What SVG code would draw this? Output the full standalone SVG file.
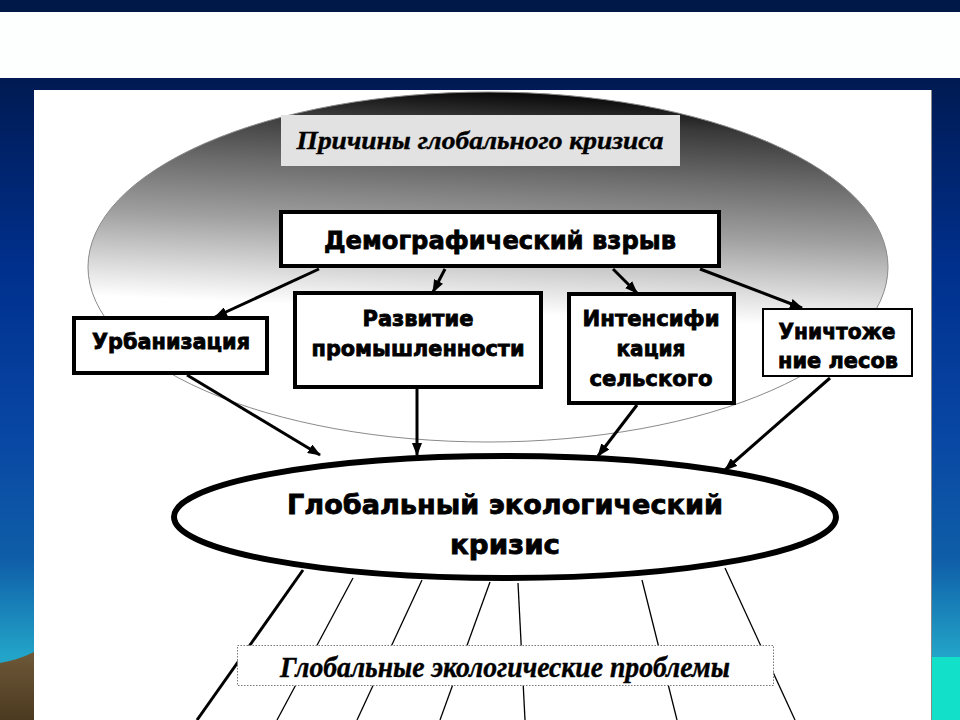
<svg xmlns="http://www.w3.org/2000/svg" width="960" height="720" viewBox="0 0 960 720">
<defs>
<linearGradient id="bg" x1="0" y1="78" x2="0" y2="720" gradientUnits="userSpaceOnUse">
<stop offset="0" stop-color="#001a52"/>
<stop offset="0.3" stop-color="#00308e"/>
<stop offset="0.55" stop-color="#0846a4"/>
<stop offset="0.75" stop-color="#0f5ea8"/>
<stop offset="0.9" stop-color="#22a4c8"/>
<stop offset="1" stop-color="#28b0cc"/>
</linearGradient>
<linearGradient id="brown" x1="0" y1="0" x2="0" y2="1">
<stop offset="0" stop-color="#6e5838"/>
<stop offset="1" stop-color="#4c3a20"/>
</linearGradient>
<linearGradient id="shade" x1="0.45" y1="0" x2="0.35" y2="1">
<stop offset="0" stop-color="#0c0c0c"/>
<stop offset="0.08" stop-color="#3a3a3a"/>
<stop offset="0.22" stop-color="#6c6c6c"/>
<stop offset="0.38" stop-color="#a0a0a0"/>
<stop offset="0.52" stop-color="#d8d8d8"/>
<stop offset="0.62" stop-color="#ffffff"/>
<stop offset="1" stop-color="#ffffff"/>
</linearGradient>
<marker id="ah" markerUnits="userSpaceOnUse" markerWidth="13" markerHeight="10" refX="12" refY="5" orient="auto">
<path d="M0,0 L13,5 L0,10 z" fill="#000"/>
</marker>
<style>
.box{fill:#fff;stroke:#000;stroke-width:4}
.thin{fill:#fff;stroke:#000;stroke-width:2}
.lbl{font-family:"DejaVu Sans","Liberation Sans",sans-serif;font-weight:bold;fill:#000;stroke:#000;stroke-width:0.8;text-anchor:middle}
.ital{font-family:"Liberation Serif","DejaVu Serif",serif;font-weight:bold;font-style:italic;fill:#000;stroke:#000;stroke-width:0.4;text-anchor:middle}
.arr{stroke:#000;stroke-width:3;fill:none;marker-end:url(#ah)}
.fan{stroke:#000;stroke-width:1.3;fill:none}
</style>
</defs>
<g id="background">
<rect x="0" y="0" width="960" height="720" fill="url(#bg)"/>
<rect x="0" y="0" width="960" height="12" fill="#001848"/>
<rect x="0" y="12" width="960" height="66" fill="#fdfefe"/>
<path d="M0,663 Q18,660 34,652 L34,720 L0,720 z" fill="url(#brown)"/>
<rect x="932" y="657" width="28" height="63" fill="#12e0c8"/>
<rect x="34" y="90" width="898" height="630" fill="#ffffff"/>
<line x1="931.5" y1="90" x2="931.5" y2="720" stroke="#8a8a8a" stroke-width="1"/>
</g>
<g id="causes-area">
<ellipse cx="488" cy="267" rx="400" ry="175" fill="url(#shade)" stroke="#8a8a8a" stroke-width="1"/>
</g>
<g id="title">
<rect x="281" y="115" width="399" height="51" fill="#e2e2e2"/>
<text class="ital" x="480" y="149" font-size="26" textLength="367" lengthAdjust="spacingAndGlyphs">Причины глобального кризиса</text>
</g>
<g id="connectors">
<line class="arr" x1="319" y1="269" x2="215" y2="317"/>
<line class="arr" x1="445" y1="269" x2="433" y2="292"/>
<line class="arr" x1="613" y1="269" x2="637" y2="293"/>
<line class="arr" x1="700" y1="269" x2="802" y2="308"/>
<line class="arr" x1="187" y1="375" x2="320" y2="455"/>
<line class="arr" x1="417" y1="388" x2="417" y2="455"/>
<line class="arr" x1="637" y1="405" x2="598" y2="456"/>
<line class="arr" x1="830" y1="378" x2="725" y2="470"/>
<line x1="303" y1="570" x2="197" y2="720" stroke="#000" stroke-width="3"/>
<line class="fan" x1="353" y1="578" x2="277" y2="720"/>
<line class="fan" x1="422" y1="580" x2="357" y2="720"/>
<line class="fan" x1="490" y1="582" x2="440" y2="720"/>
<line class="fan" x1="518" y1="583" x2="525" y2="720"/>
<line class="fan" x1="642" y1="580" x2="677" y2="720"/>
<line class="fan" x1="725" y1="568" x2="795" y2="720"/>
</g>
<g id="demographic">
<rect class="box" x="281" y="212" width="438" height="54"/>
<text class="lbl" x="500" y="249" font-size="25" textLength="352" lengthAdjust="spacingAndGlyphs">Демографический взрыв</text>
</g>
<g id="urbanization">
<rect class="box" x="74" y="318" width="193" height="55"/>
<text class="lbl" x="171" y="349" font-size="21" textLength="158" lengthAdjust="spacingAndGlyphs">Урбанизация</text>
</g>
<g id="industry">
<rect class="box" x="295" y="293" width="246" height="94"/>
<text class="lbl" x="418" y="326" font-size="21" textLength="111" lengthAdjust="spacingAndGlyphs">Развитие</text>
<text class="lbl" x="418" y="356" font-size="21" textLength="213" lengthAdjust="spacingAndGlyphs">промышленности</text>
</g>
<g id="agriculture">
<rect class="box" x="569" y="294" width="165" height="109"/>
<text class="lbl" x="651" y="326" font-size="21" textLength="137" lengthAdjust="spacingAndGlyphs">Интенсифи</text>
<text class="lbl" x="651" y="356" font-size="21" textLength="69" lengthAdjust="spacingAndGlyphs">кация</text>
<text class="lbl" x="651" y="386" font-size="21" textLength="123" lengthAdjust="spacingAndGlyphs">сельского</text>
</g>
<g id="deforestation">
<rect class="thin" x="763" y="309" width="149" height="67"/>
<text class="lbl" x="837" y="339" font-size="21" textLength="117" lengthAdjust="spacingAndGlyphs">Уничтоже</text>
<text class="lbl" x="838" y="368" font-size="21" textLength="120" lengthAdjust="spacingAndGlyphs">ние лесов</text>
</g>
<g id="crisis">
<ellipse cx="505" cy="517" rx="331" ry="61" fill="#fff" stroke="#000" stroke-width="6"/>
<text class="lbl" x="505" y="514" font-size="27" textLength="436" lengthAdjust="spacingAndGlyphs">Глобальный экологический</text>
<text class="lbl" x="505" y="554" font-size="27" textLength="110" lengthAdjust="spacingAndGlyphs">кризис</text>
</g>
<g id="problems">
<rect x="237.5" y="645.5" width="536" height="40" fill="#fff" stroke="#777" stroke-width="1" stroke-dasharray="1.5,1.5"/>
<text class="ital" x="505" y="677" font-size="29" textLength="450" lengthAdjust="spacingAndGlyphs">Глобальные экологические проблемы</text>
</g>
</svg>
